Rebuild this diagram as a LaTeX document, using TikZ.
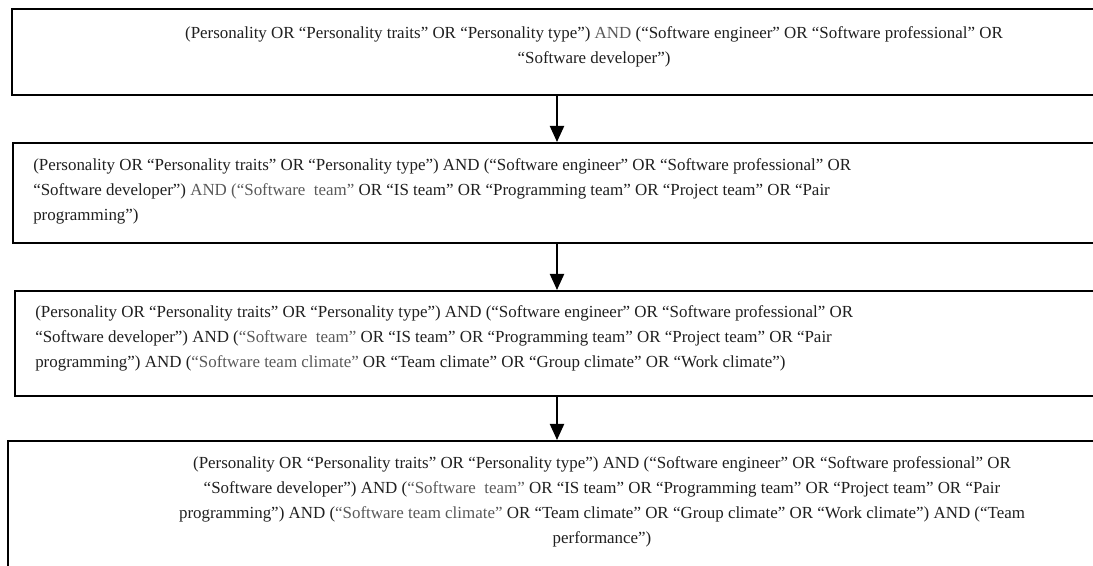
\documentclass[tikz,border=0pt]{standalone}
\usepackage{fontspec}
\setmainfont{Liberation Serif}
\usetikzlibrary{arrows.meta}
\newcommand{\gw}[1]{\textcolor{black!65}{#1}}

\begin{document}
\begin{tikzpicture}[
  x=0.75pt,y=-0.75pt,
  query/.style={rectangle,draw,line width=1.5pt,fill=white,inner sep=0pt},
  qtext/.style={inner sep=0pt,text=black!88,font=\fontsize{12.7}{18.75}\selectfont},
  flow/.style={line width=1.5pt,-{Triangle[width=10.5pt,length=12pt]}}
  ]

\useasboundingbox (0,0) rectangle (1093,566);
\clip (0,0) rectangle (1093,566);

% boxes
\node[query,minimum width=1090*0.75pt,minimum height=86*0.75pt] (q1) at (557,52) {};
\node[query,minimum width=1088*0.75pt,minimum height=100*0.75pt] (q2) at (557,193) {};
\node[query,minimum width=1084*0.75pt,minimum height=105*0.75pt] (q3) at (557,343.5) {};
\node[query,minimum width=1098*0.75pt,minimum height=139*0.75pt] (q4) at (557,510.5) {};

% search strings
\node[qtext,align=center,anchor=north] (t1) at (594,26) {(Personality OR “Personality traits” OR “Personality type”) \gw{AND} (“Software engineer” OR “Software professional” OR\\ “Software developer”)};

\node[qtext,align=left,anchor=north west] (t2) at (33,158.5) {(Personality OR “Personality traits” OR “Personality type”) AND (“Software engineer” OR “Software professional” OR\\ “Software developer”) \gw{AND (“Software~~team”} OR “IS team” OR “Programming team” OR “Project team” OR “Pair\\ programming”)};

\node[qtext,align=left,anchor=north west] (t3) at (35,305.5) {(Personality OR “Personality traits” OR “Personality type”) AND (“Software engineer” OR “Software professional” OR\\ “Software developer”) AND (\gw{“Software~~team”} OR “IS team” OR “Programming team” OR “Project team” OR “Pair\\ programming”) AND (\gw{“Software team climate”} OR “Team climate” OR “Group climate” OR “Work climate”)};

\node[qtext,align=center,anchor=north] (t4) at (602,456.5) {(Personality OR “Personality traits” OR “Personality type”) AND (“Software engineer” OR “Software professional” OR\\ “Software developer”) AND (\gw{“Software~~team”} OR “IS team” OR “Programming team” OR “Project team” OR “Pair\\ programming”) AND (\gw{“Software team climate”} OR “Team climate” OR “Group climate” OR “Work climate”) AND (“Team\\ performance”)};

% arrows
\draw[flow] (q1.south) -- (q2.north);
\draw[flow] (q2.south) -- (q3.north);
\draw[flow] (q3.south) -- (q4.north);

\end{tikzpicture}
\end{document}
